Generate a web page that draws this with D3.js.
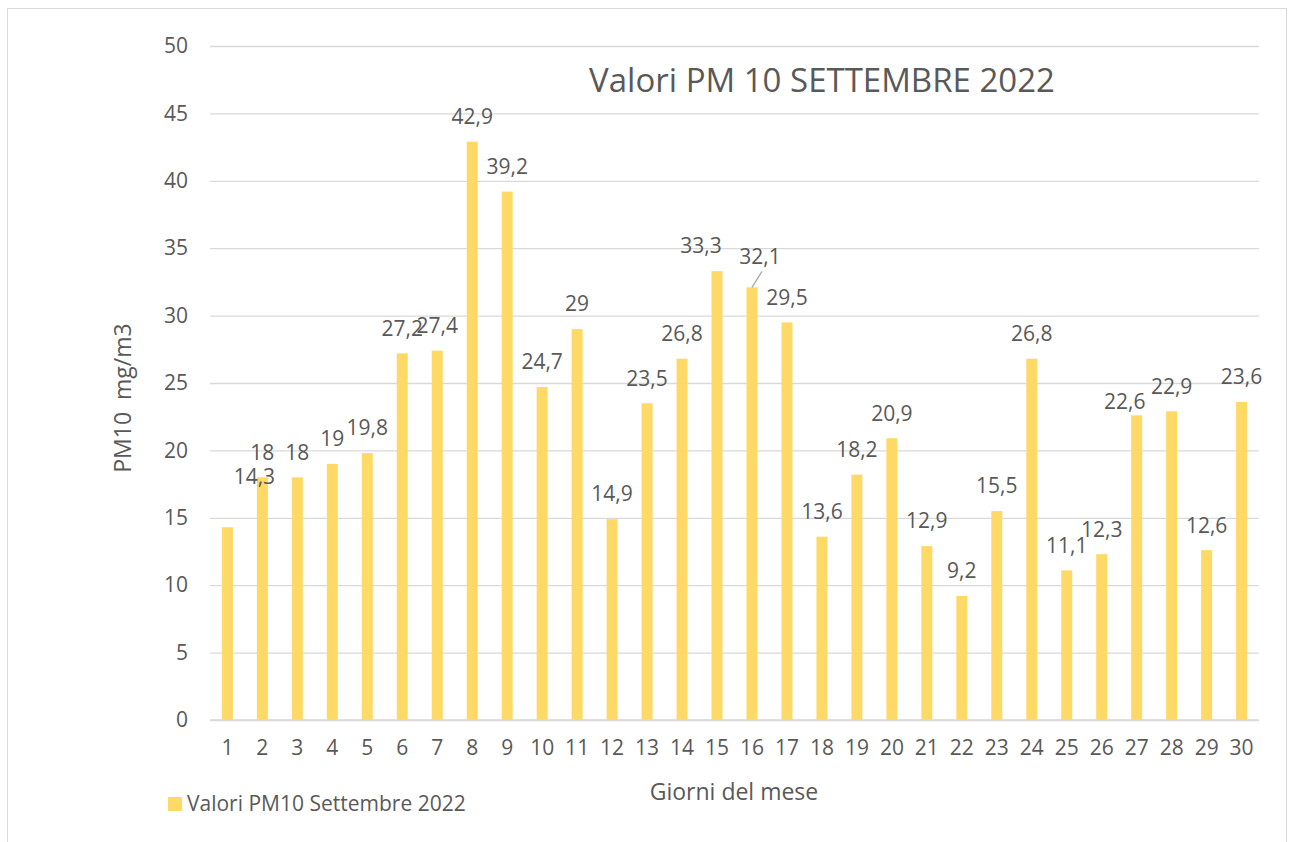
<!DOCTYPE html>
<html>
<head>
<meta charset='UTF-8'>
<title>Valori PM 10 Settembre 2022</title>
<script src='https://cdn.jsdelivr.net/npm/d3@7/dist/d3.min.js'></script>
<style>
  body { margin:0; background:#fff; }
  text { font-family:'Open Sans', sans-serif; fill:#595959; }
</style>
</head>
<body>
<div id='chart'></div>
<script>
// data
var days = d3.range(1, 31).map(String);
var pm10 = [14.3, 18, 18, 19, 19.8, 27.2, 27.4, 42.9, 39.2, 24.7,
            29, 14.9, 23.5, 26.8, 33.3, 32.1, 29.5, 13.6, 18.2, 20.9,
            12.9, 9.2, 15.5, 26.8, 11.1, 12.3, 22.6, 22.9, 12.6, 23.6];
var yTicks = [0, 5, 10, 15, 20, 25, 30, 35, 40, 45, 50];
var seriesName = 'Valori PM10 Settembre 2022';

// labels that were dragged by hand in the original
var labelShift = { '1': [27, -26], '15': [-16, 0], '16': [8, -6], '27': [-12, 11] };

var width = 1291;
var height = 842;
var plotLeft = 210, plotRight = 1259, plotTop = 46, plotBottom = 720;
var barColor = '#FFD966';

var svg = d3.select('#chart').append('svg')
  .attr('width', width)
  .attr('height', height);

// chart frame
svg.append('rect')
  .attr('x', 7.5).attr('y', 8.5)
  .attr('width', 1279).attr('height', 860)
  .attr('fill', 'none')
  .attr('stroke', '#d9d9d9');

var x = d3.scaleBand()
  .domain(days)
  .range([plotLeft, plotRight])
  .paddingInner(0.685)
  .paddingOuter(0.34);

var y = d3.scaleLinear()
  .domain([0, 50])
  .range([plotBottom, plotTop]);

/* grid + y axis */
var yAxis = d3.axisLeft(y)
  .tickValues(yTicks)
  .tickSize(-(plotRight - plotLeft))
  .tickPadding(22);

svg.append('g')
  .attr('class', 'y axis')
  .attr('transform', `translate(${plotLeft}, 0)`)
  .call(yAxis)
  .call(g => g.select('.domain').remove())
  .call(g => g.selectAll('.tick line').attr('stroke', '#d9d9d9').attr('stroke-width', 1.3))
  .call(g => g.selectAll('.tick text').style('font-size', '21px').attr('fill', '#595959'));

/* bars */
svg.append('g')
  .selectAll('rect')
  .data(pm10).enter()
  .append('rect')
  .attr('x', (d, i) => x(days[i]))
  .attr('y', d => y(d))
  .attr('width', x.bandwidth())
  .attr('height', d => y(0) - y(d))
  .attr('fill', barColor);

/* x axis */
var xAxis = d3.axisBottom(x).tickSize(0).tickPadding(20);

svg.append('g')
  .attr('class', 'x axis')
  .attr('transform', `translate(0, ${plotBottom})`)
  .call(xAxis)
  .call(g => g.select('.domain').attr('stroke', '#d9d9d9').attr('stroke-width', 1.3)
    .attr('d', `M${plotLeft},0H${plotRight}`))
  .call(g => g.selectAll('.tick text').style('font-size', '21px').attr('fill', '#595959'));

/* leader line for day 16 */
var i16 = days.indexOf('16');
svg.append('line')
  .attr('x1', x('16') + x.bandwidth() / 2)
  .attr('y1', y(pm10[i16]))
  .attr('x2', x('16') + x.bandwidth() / 2 + 10)
  .attr('y2', y(pm10[i16]) - 16)
  .attr('stroke', '#a6a6a6')
  .attr('stroke-width', 1.3);

/* data labels */
svg.append('g')
  .selectAll('text')
  .data(pm10).enter()
  .append('text')
  .attr('x', (d, i) => x(days[i]) + x.bandwidth() / 2 + (labelShift[days[i]] ? labelShift[days[i]][0] : 0))
  .attr('y', (d, i) => y(d) - 25 + (labelShift[days[i]] ? labelShift[days[i]][1] : 0))
  .attr('dy', '0.35em')
  .attr('text-anchor', 'middle')
  .style('font-size', '21px')
  .attr('fill', '#404040')
  .text(d => String(d).replace('.', ','));

/* titles */
svg.append('text')
  .attr('x', 822)
  .attr('y', 80)
  .attr('dy', '0.35em')
  .attr('text-anchor', 'middle')
  .style('font-size', '33px')
  .text('Valori PM 10 SETTEMBRE 2022');

svg.append('text')
  .attr('x', 734)
  .attr('y', 792)
  .attr('dy', '0.35em')
  .attr('text-anchor', 'middle')
  .style('font-size', '23px')
  .text('Giorni del mese');

svg.append('text')
  .attr('transform', 'translate(123, 398) rotate(-90)')
  .attr('dy', '0.35em')
  .attr('text-anchor', 'middle')
  .style('font-size', '23px')
  .style('white-space', 'pre')
  .text('PM10  mg/m3');

/* legend */
var legend = svg.append('g').attr('transform', 'translate(168, 797)');
legend.append('rect')
  .attr('width', 14).attr('height', 14)
  .attr('fill', barColor);
legend.append('text')
  .attr('x', 19).attr('y', 7)
  .attr('dy', '0.35em')
  .style('font-size', '21px')
  .text(seriesName);
</script>
</body>
</html>
